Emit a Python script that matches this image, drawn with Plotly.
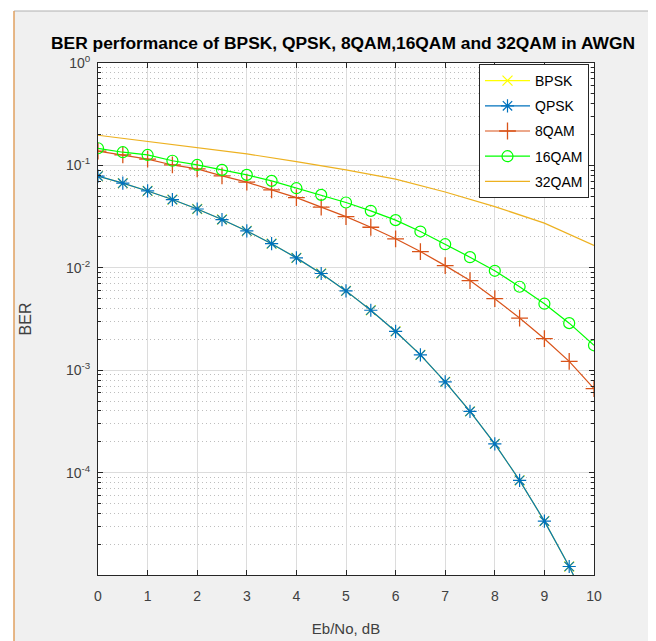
import plotly.graph_objects as go

ebno = [0, 0.5, 1, 1.5, 2, 2.5, 3, 3.5, 4, 4.5, 5, 5.5, 6, 6.5, 7, 7.5, 8, 8.5, 9, 9.5, 10]

bpsk = [0.0786, 0.0671, 0.0563, 0.0464, 0.0375, 0.0296, 0.0229, 0.0172, 0.0125, 0.0088,
        0.00595, 0.00385, 0.00239, 0.00141, 0.00077, 0.000396, 0.000191, 8.4e-5, 3.36e-5, 1.21e-5, 3.9e-6]
qpsk = [0.0786, 0.0671, 0.0563, 0.0464, 0.0375, 0.0296, 0.0229, 0.0172, 0.0125, 0.0088,
        0.00595, 0.00385, 0.00239, 0.00141, 0.00077, 0.000396, 0.000191, 8.4e-5, 3.36e-5, 1.21e-5, 3.9e-6]
qam8 = [0.138, 0.1265, 0.115, 0.101, 0.0924, 0.079, 0.0686, 0.0577, 0.0485, 0.0391,
        0.0316, 0.0249, 0.0192, 0.0144, 0.0105, 0.0075, 0.00499, 0.00323, 0.00203, 0.00122, 0.00066]
qam16 = [0.147, 0.1345, 0.1265, 0.111, 0.101, 0.0904, 0.0808, 0.0706, 0.0599, 0.0515,
         0.0434, 0.036, 0.0292, 0.0226, 0.017, 0.0127, 0.00935, 0.00653, 0.00446, 0.00288, 0.00175]
ebno32 = [0, 1, 2, 3, 4, 5, 6, 7, 8, 9, 10]
qam32 = [0.197, 0.171, 0.147, 0.1295, 0.109, 0.0904, 0.0733, 0.055, 0.0396, 0.0273, 0.0165]

yticks = [1, 0.1, 0.01, 0.001, 0.0001]
yticktext = ["10<sup>0</sup>", "10<sup>-1</sup>", "10<sup>-2</sup>", "10<sup>-3</sup>", "10<sup>-4</sup>"]
xticks = [0, 1, 2, 3, 4, 5, 6, 7, 8, 9, 10]
minor_vals = [m * 10.0 ** e for e in range(-5, 0) for m in range(2, 10)]

FONT = "Liberation Sans"
fig = go.Figure()
fig.add_trace(go.Scatter(x=ebno, y=bpsk, name="BPSK", mode="lines+markers", legendgroup="a",
                         line=dict(color="#FFFF00", width=1.2),
                         marker=dict(symbol="x-thin-open", size=10, line=dict(color="#FFFF00", width=1.2))))
fig.add_trace(go.Scatter(x=ebno, y=qpsk, name="QPSK", mode="lines+markers", legendgroup="b",
                         line=dict(color="#0072BD", width=1.2),
                         marker=dict(symbol="asterisk-open", size=11, line=dict(color="#0072BD", width=1.2))))
fig.add_trace(go.Scatter(x=ebno, y=qam8, name="8QAM", mode="lines+markers", legendgroup="c",
                         line=dict(color="#D95319", width=1.2),
                         marker=dict(symbol="cross-thin-open", size=12, line=dict(color="#D95319", width=1.3))))
fig.add_trace(go.Scatter(x=ebno, y=qam16, name="16QAM", mode="lines+markers", legendgroup="d",
                         line=dict(color="#00FF00", width=1.2),
                         marker=dict(symbol="circle-open", size=11, line=dict(color="#00FF00", width=1.2))))
fig.add_trace(go.Scatter(x=ebno32, y=qam32, name="32QAM", mode="lines", legendgroup="e",
                         line=dict(color="#EDB120", width=1.2)))

# page body has an 8px margin; work in window pixels and convert
OFF = 8
W, H = 656 - OFF, 641 - OFF
L, R, T, B = 98 - OFF, 656 - 594, 63 - OFF, 641 - 575
pw, ph = W - L - R, H - T - B

def px_x(p):
    return (p - OFF - L) / pw

def px_y(p):
    return 1 - (p - OFF - T) / ph

shapes = [
    dict(type="rect", xref="paper", yref="paper", x0=px_x(OFF), x1=px_x(14), y0=px_y(641), y1=px_y(OFF),
         fillcolor="white", line=dict(width=0), layer="below"),
    dict(type="rect", xref="paper", yref="paper", x0=px_x(OFF), x1=px_x(656), y0=px_y(11), y1=px_y(OFF),
         fillcolor="white", line=dict(width=0), layer="below"),
    dict(type="rect", xref="paper", yref="paper", x0=px_x(651), x1=px_x(656), y0=px_y(641), y1=px_y(OFF),
         fillcolor="white", line=dict(width=0), layer="below"),
    dict(type="line", xref="paper", yref="paper", x0=px_x(14), x1=px_x(651), y0=px_y(11), y1=px_y(11),
         line=dict(color="#b0b0b0", width=1)),
    dict(type="line", xref="paper", yref="paper", x0=px_x(14), x1=px_x(14), y0=px_y(641), y1=px_y(11),
         line=dict(color="#E0A060", width=1.5)),
]

fig.update_layout(
    width=W, height=H,
    margin=dict(l=L, r=R, t=T, b=B, autoexpand=False),
    paper_bgcolor="#F0F0F0", plot_bgcolor="white",
    font=dict(family=FONT, color="#262626", size=13),
    title=dict(text="<b>BER performance of BPSK, QPSK, 8QAM,16QAM and 32QAM in AWGN</b>",
               x=(343 - OFF) / W, xanchor="center", y=1 - (43 - OFF) / H, yanchor="middle",
               font=dict(family=FONT, size=17.4, color="black")),
    shapes=shapes,
    showlegend=True,
    legend=dict(x=px_x(589), xanchor="right", y=px_y(64), yanchor="top",
                bgcolor="white", bordercolor="#262626", borderwidth=1,
                font=dict(family=FONT, size=14, color="black"),
                itemwidth=45, tracegroupgap=4, traceorder="grouped"),
)
fig.update_xaxes(range=[0, 10], tickvals=xticks, ticks="inside", ticklen=5, tickcolor="#262626",
                 showline=True, linecolor="#262626", linewidth=1, mirror="ticks",
                 showgrid=True, gridcolor="#DCDCDC", gridwidth=1, zeroline=False, automargin=False,
                 tickfont=dict(size=14, color="#404040"), ticklabelstandoff=8,
                 title=dict(text="Eb/No, dB", font=dict(size=15, color="#404040"), standoff=20))
fig.update_yaxes(type="log", range=[-5, 0], tickmode="array", tickvals=yticks, ticktext=yticktext,
                 ticks="inside", ticklen=5, tickcolor="#262626",
                 showline=True, linecolor="#262626", linewidth=1, mirror="ticks",
                 showgrid=True, gridcolor="#DCDCDC", gridwidth=1, zeroline=False, automargin=False,
                 tickfont=dict(size=14, color="#404040"), ticklabelstandoff=4,
                 minor=dict(tickmode="array", tickvals=minor_vals, ticks="inside", ticklen=3,
                            tickcolor="#262626", showgrid=True, gridcolor="#BEBEBE",
                            griddash="1px,3px", gridwidth=1),
                 title=dict(text="BER", font=dict(size=16, color="#404040"), standoff=30))

fig.write_html("out.html")
